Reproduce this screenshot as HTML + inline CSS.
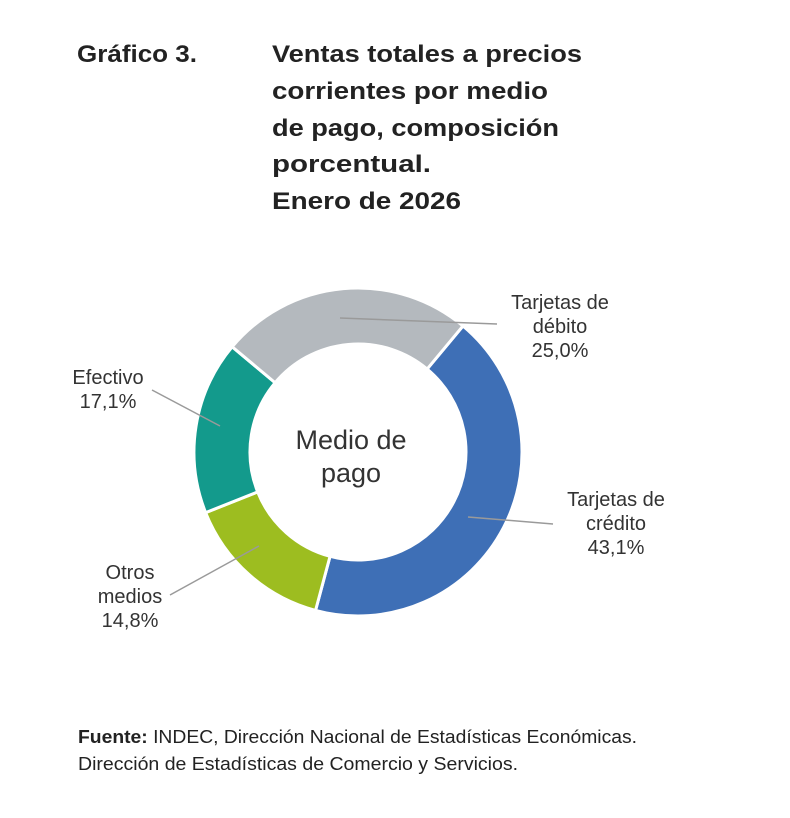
<!DOCTYPE html>
<html><head><meta charset="utf-8"><style>
body{margin:0;background:#fff;width:790px;height:813px;overflow:hidden;font-family:"Liberation Sans",sans-serif;}
</style></head><body>
<svg width="790" height="813" xmlns="http://www.w3.org/2000/svg" font-family="Liberation Sans, sans-serif">
<g font-weight="bold" font-size="24" fill="#222">
<text x="77" y="62" textLength="120" lengthAdjust="spacingAndGlyphs">Gráfico 3.</text>
<text x="272" y="62" textLength="310" lengthAdjust="spacingAndGlyphs">Ventas totales a precios</text>
<text x="272" y="99" textLength="276" lengthAdjust="spacingAndGlyphs">corrientes por medio</text>
<text x="272" y="136" textLength="287" lengthAdjust="spacingAndGlyphs">de pago, composición</text>
<text x="272" y="172" textLength="159" lengthAdjust="spacingAndGlyphs">porcentual.</text>
<text x="272" y="209" textLength="189" lengthAdjust="spacingAndGlyphs">Enero de 2026</text>
</g>
<g id="d" stroke="#fff" stroke-width="3"></g>
<script>
(function(){var cx=358,cy=452,R=164,r=108;var segs=[[39.8,155.2,"#3e6fb6"],[195,53.3,"#9dbd20"],[248.3,61.6,"#139a8c"],[309.9,89.9,"#b4b9be"]];
var g=document.getElementById('d');function p(a,rr){a=a*Math.PI/180;return [cx+rr*Math.sin(a),cy-rr*Math.cos(a)];}
segs.forEach(function(s){var a0=s[0],a1=s[0]+s[1],l=s[1]>180?1:0;var A=p(a0,R),B=p(a1,R),C=p(a1,r),D=p(a0,r);
var e=document.createElementNS("http://www.w3.org/2000/svg","path");
e.setAttribute("d","M"+A+"A"+R+","+R+" 0 "+l+" 1 "+B+"L"+C+"A"+r+","+r+" 0 "+l+" 0 "+D+"Z");e.setAttribute("fill",s[2]);g.appendChild(e);});})();
</script>
<g stroke="#9a9a9a" stroke-width="1.5" fill="none">
<line x1="497" y1="324" x2="340" y2="318"/>
<line x1="553" y1="524" x2="468" y2="517"/>
<line x1="152" y1="390" x2="220" y2="426"/>
<line x1="170" y1="595" x2="259" y2="546"/>
</g>
<g font-size="20" fill="#333" text-anchor="middle">
<text x="560" y="309">Tarjetas de</text>
<text x="560" y="333">débito</text>
<text x="560" y="357">25,0%</text>
<text x="616" y="506">Tarjetas de</text>
<text x="616" y="530">crédito</text>
<text x="616" y="554">43,1%</text>
<text x="108" y="384">Efectivo</text>
<text x="108" y="408">17,1%</text>
<text x="130" y="579">Otros</text>
<text x="130" y="603">medios</text>
<text x="130" y="627">14,8%</text>
<text x="351" y="449" font-size="27">Medio de</text>
<text x="351" y="482" font-size="27">pago</text>
</g>
<g font-size="18" fill="#222">
<text x="78" y="743" textLength="559" lengthAdjust="spacingAndGlyphs"><tspan font-weight="bold">Fuente:</tspan> INDEC, Dirección Nacional de Estadísticas Económicas.</text>
<text x="78" y="770" textLength="440" lengthAdjust="spacingAndGlyphs">Dirección de Estadísticas de Comercio y Servicios.</text>
</g>
</svg>
</body></html>
